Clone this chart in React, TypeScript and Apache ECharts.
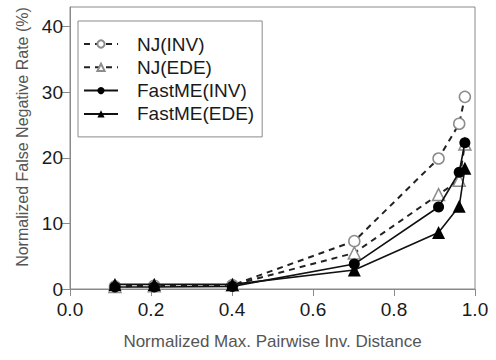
import React, { useEffect, useRef } from "react";
import * as echarts from "echarts";

const xValues = [0.111, 0.208, 0.401, 0.702, 0.91, 0.961, 0.975];
const njInv = [0.4, 0.5, 0.6, 7.3, 19.9, 25.2, 29.3];
const njEde = [0.4, 0.5, 0.6, 5.5, 14.4, 16.6, 22.1];
const fastInv = [0.3, 0.3, 0.4, 3.8, 12.5, 17.8, 22.3];
const fastEde = [0.7, 0.7, 0.7, 2.9, 8.6, 12.6, 18.4];
const xTicks = [0, 0.2, 0.4, 0.6, 0.8, 1.0];
const yTicks = [0, 10, 20, 30, 40];

const pair = (ys: number[]) => xValues.map((x, i) => [x, ys[i]]);

export default function App() {
  const ref = useRef<HTMLDivElement>(null);
  useEffect(() => {
    if (!ref.current) return;
    const chart = echarts.init(ref.current, null, { renderer: "svg" });
    const font = "Liberation Sans, Arial, sans-serif";
    const axisColor = "#8a8a8a";
    chart.setOption({
      animation: false,
      backgroundColor: "#ffffff",
      textStyle: { fontFamily: font },
      grid: {
        left: 70,
        right: 21,
        top: 7,
        bottom: 71,
        show: true,
        borderColor: axisColor,
        borderWidth: 1,
      },
      graphic: [
        {
          type: "text",
          x: 22,
          y: 137,
          rotation: Math.PI / 2,
          style: {
            text: "Normalized False Negative Rate (%)",
            fontSize: 16,
            fontFamily: font,
            fill: "#555",
            align: "center",
            verticalAlign: "middle",
          },
        },
      ],
      legend: {
        left: 78,
        top: 21,
        orient: "vertical",
        padding: [13, 8, 13, 5],
        itemWidth: 34,
        itemHeight: 9,
        itemGap: 3.3,
        borderColor: axisColor,
        borderWidth: 1,
        textStyle: {
          fontFamily: font,
          fontSize: 19,
          lineHeight: 20,
          color: "#1a1a1a",
          padding: [0, 0, 0, 14],
        },
        data: ["NJ(INV)", "NJ(EDE)", "FastME(INV)", "FastME(EDE)"],
      },
      xAxis: {
        type: "value",
        min: 0,
        max: 1,
        interval: 0.2,
        axisLine: { show: true, onZero: false, lineStyle: { color: axisColor, width: 1 } },
        axisTick: { show: true, inside: false, length: 7, lineStyle: { color: axisColor } },
        splitLine: { show: false },
        axisLabel: {
          customValues: xTicks,
          formatter: (v: number) => v.toFixed(1),
          fontSize: 19,
          color: "#1a1a1a",
          margin: 11,
          fontFamily: font,
        },
        name: "Normalized Max. Pairwise Inv. Distance",
        nameLocation: "middle",
        nameGap: 44,
        nameTextStyle: { fontSize: 17, color: "#555", fontFamily: font },
      },
      yAxis: {
        type: "value",
        min: 0,
        max: 43,
        axisLine: { show: true, onZero: false, lineStyle: { color: axisColor, width: 1 } },
        axisTick: { show: true, inside: false, length: 8, customValues: yTicks, lineStyle: { color: axisColor } },
        splitLine: { show: false },
        axisLabel: {
          customValues: yTicks,
          fontSize: 19,
          color: "#1a1a1a",
          margin: 7,
          fontFamily: font,
        },
      },
      series: [
        {
          name: "NJ(INV)",
          type: "line",
          data: pair(njInv),
          symbol: "circle",
          symbolSize: 11,
          lineStyle: { color: "#222", width: 2, type: [6, 5] },
          itemStyle: { color: "#ffffff", borderColor: "#8c8c8c", borderWidth: 1.5 },
          z: 2,
        },
        {
          name: "NJ(EDE)",
          type: "line",
          data: pair(njEde),
          symbol: "triangle",
          symbolSize: 12,
          lineStyle: { color: "#222", width: 2, type: [6, 5] },
          itemStyle: { color: "#ffffff", borderColor: "#8c8c8c", borderWidth: 1.5 },
          z: 2,
        },
        {
          name: "FastME(INV)",
          type: "line",
          data: pair(fastInv),
          symbol: "circle",
          symbolSize: 11,
          lineStyle: { color: "#111", width: 1.6 },
          itemStyle: { color: "#000" },
          z: 3,
        },
        {
          name: "FastME(EDE)",
          type: "line",
          data: pair(fastEde),
          symbol: "triangle",
          symbolSize: 13,
          lineStyle: { color: "#111", width: 1.6 },
          itemStyle: { color: "#000" },
          z: 4,
        },
      ],
    });
    return () => chart.dispose();
  }, []);
  return (
    <div
      ref={ref}
      style={{ position: "fixed", left: 0, top: 0, width: 496, height: 360 }}
    />
  );
}
